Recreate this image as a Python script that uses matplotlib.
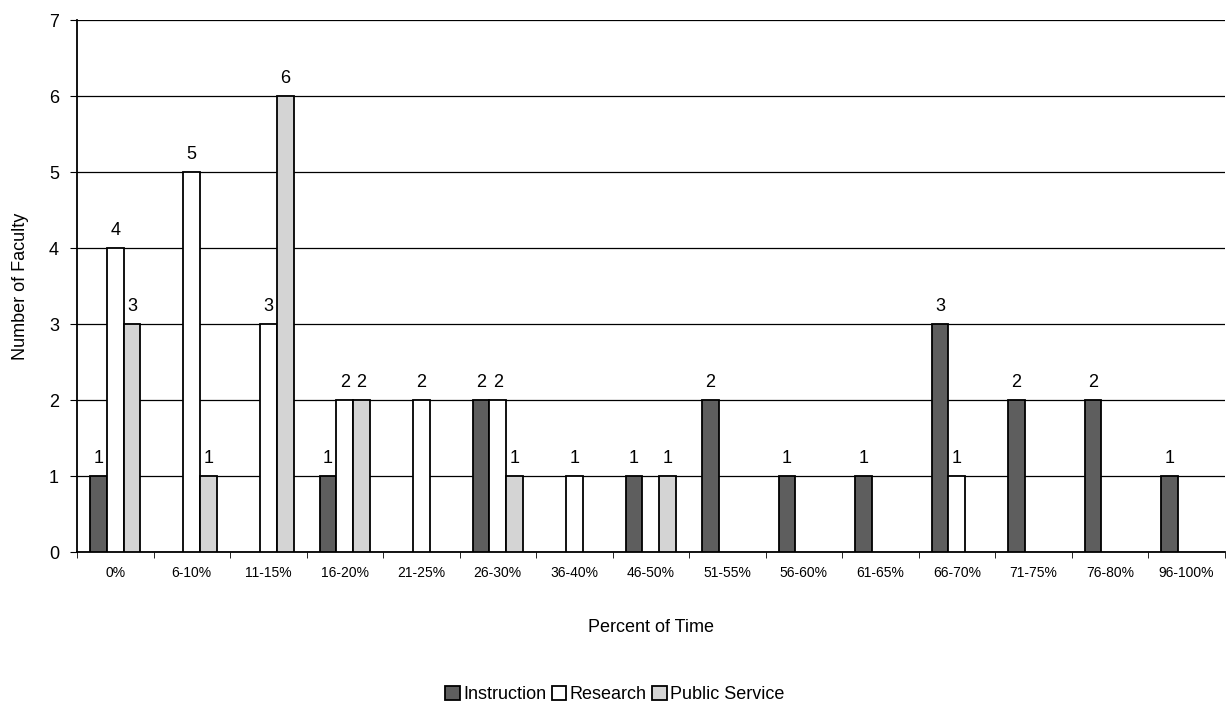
import numpy as np
import matplotlib.pyplot as plt

plt.rcParams['font.family'] = ['Liberation Sans', 'DejaVu Sans']

# percent-of-time bins and faculty counts per activity
categories = ["0%", "6-10%", "11-15%", "16-20%", "21-25%", "26-30%", "36-40%",
              "46-50%", "51-55%", "56-60%", "61-65%", "66-70%", "71-75%",
              "76-80%", "96-100%"]
instruction = [1, 0, 0, 1, 0, 2, 0, 1, 2, 1, 1, 3, 2, 2, 1]
research = [4, 5, 3, 2, 2, 2, 1, 0, 0, 0, 0, 1, 0, 0, 0]
public_service = [3, 1, 6, 2, 0, 1, 0, 1, 0, 0, 0, 0, 0, 0, 0]

series = [
    ("Instruction", instruction, "#5e5e5e"),
    ("Research", research, "white"),
    ("Public Service", public_service, "#d4d4d4"),
]

fig = plt.figure(figsize=(12.3, 7.1), dpi=100)
ax = fig.add_axes([0.0626, 0.2225, 0.933, 0.7493])

x = np.arange(len(categories))
w = 0.22
offsets = [-w, 0, w]

handles = []
for (name, vals, color), off in zip(series, offsets):
    vals = np.array(vals)
    mask = vals > 0
    bars = ax.bar(x[mask] + off, vals[mask], width=w, color=color,
                  edgecolor="black", linewidth=1.3, zorder=3, label=name)
    handles.append(bars)
    for xi, v in zip(x[mask] + off, vals[mask]):
        ax.text(xi, v + 0.12, str(v), ha="center", va="bottom", fontsize=13)

ax.set_xlim(-0.5, len(categories) - 0.5)
ax.set_ylim(0, 7)
ax.set_yticks(range(8))
ax.yaxis.grid(True, color="black", linewidth=0.9, zorder=0)
ax.set_axisbelow(True)

ax.set_xticks(x)
ax.set_xticklabels(categories, fontsize=10)
ax.set_xticks(np.arange(-0.5, len(categories), 1), minor=True)
ax.tick_params(axis="x", which="major", length=0, pad=10)
ax.tick_params(axis="x", which="minor", length=4, direction="out")
ax.tick_params(axis="y", labelsize=13, length=5, pad=8)

for s in ["top", "right"]:
    ax.spines[s].set_visible(False)
ax.spines["left"].set_linewidth(1.3)
ax.spines["bottom"].set_linewidth(1.3)

ax.set_ylabel("Number of Faculty", fontsize=13, labelpad=14)
ax.set_xlabel("Percent of Time", fontsize=13, labelpad=28)

fig.legend(handles=handles, loc="center", bbox_to_anchor=(0.5, 0.022),
           ncol=3, frameon=False, fontsize=13, handlelength=0.8,
           handleheight=0.8, handletextpad=0.2, columnspacing=0.3)

fig.savefig("out.png", dpi=100)
